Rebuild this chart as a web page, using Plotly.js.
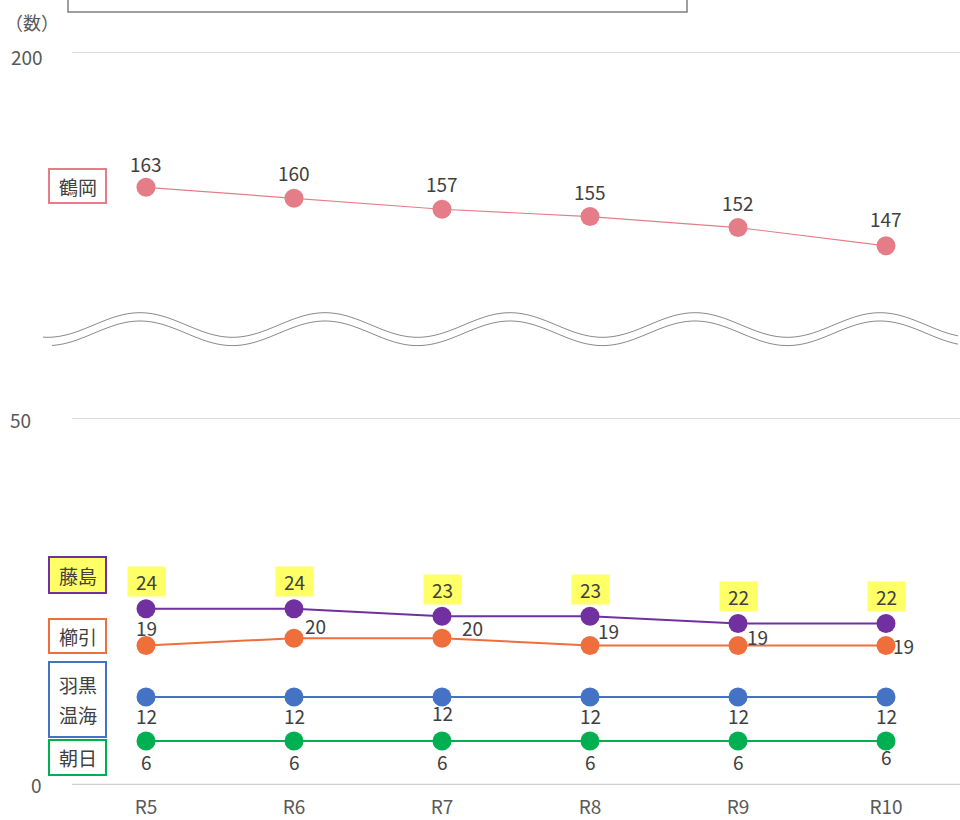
<!DOCTYPE html>
<html><head><meta charset="utf-8">
<script src="https://cdn.plot.ly/plotly-3.0.1.min.js"></script>
<style>body{margin:0;background:#fff}#c{width:960px;height:820px}</style>
</head><body><div id="c"></div>
<script>
// ---- data ----
const years = ['R5','R6','R7','R8','R9','R10'];
const tsuruoka = [163,160,157,155,152,147];
const fujishima = [24,24,23,23,22,22];
const kushibiki = [19,20,20,19,19,19];
const haguroAtsumi = [12,12,12,12,12,12];
const asahi = [6,6,6,6,6,6];
const seriesNames = [['鶴岡'],['藤島'],['櫛引'],['羽黒','温海'],['朝日']];
const unitLabel = '（数）';
const lowerTicks = [0,50];
const upperTicks = [200];

// ---- layout geometry (pixels) ----
const W=960,H=820,ML=72,MR=0,MT=52,MB=35;
const PW=W-ML-MR, PH=H-MT-MB;
const px2x = p => (p-ML)/PW;
const py2y = p => (H-MB-p)/PH;
const FONT = '"Noto Sans CJK JP", "Noto Sans", sans-serif';
const TXT = '#404040';
const GRID = '#d9d9d9';

const colors = {ts:'#e47d88', fu:'#7030a0', ku:'#ef6f3c', ha:'#4472c4', as:'#00b050'};

function line(y, color, yaxis, w){
  return {x:years, y:y, type:'scatter', mode:'lines+markers', yaxis:yaxis, cliponaxis:false,
    line:{color:color, width:w}, marker:{color:color, size:19}, hoverinfo:'skip', showlegend:false};
}
const data = [
  line(tsuruoka, colors.ts, 'y2', 1.2),
  line(fujishima, colors.fu, 'y', 2),
  line(kushibiki, colors.ku, 'y', 2),
  line(haguroAtsumi, colors.ha, 'y', 2),
  line(asahi, colors.as, 'y', 2)
];

const ann = [];
function lab(x, y, yref, text, xs, ys, extra){
  ann.push(Object.assign({x:x, y:y, xref:'x', yref:yref, text:String(text), showarrow:false,
    xanchor:'center', yanchor:'middle',
    xshift:xs, yshift:ys, font:{family:FONT, size:19, color:TXT}}, extra||{}));
}
const tsOff = [24,26,26,25,25,27];
const kuOff = [[0,18],[21,13],[30,11],[18,15],[19,9],[17,0]];
years.forEach((yr,i)=>{
  lab(yr, tsuruoka[i], 'y2', tsuruoka[i], 0, tsOff[i]);
  lab(yr, fujishima[i], 'y', fujishima[i], 0, 27, {bgcolor:'#ffff66', borderpad:4, width:29, height:21});
  lab(yr, kushibiki[i], 'y', kushibiki[i], kuOff[i][0], kuOff[i][1]);
  lab(yr, haguroAtsumi[i], 'y', haguroAtsumi[i], 0, i===2?-16:-19);
  lab(yr, asahi[i], 'y', asahi[i], 0, i===5?-16:-21);
});

// series name boxes (frames + text)
const boxes = [
  {c:colors.ts, y0:169, y1:203, bg:'rgba(0,0,0,0)'},
  {c:colors.fu, y0:557, y1:593, bg:'#ffff66'},
  {c:colors.ku, y0:619, y1:653, bg:'rgba(0,0,0,0)'},
  {c:colors.ha, y0:662, y1:737, bg:'rgba(0,0,0,0)'},
  {c:colors.as, y0:740, y1:775, bg:'rgba(0,0,0,0)'}
];
const shapes = [];
boxes.forEach((b,k)=>{
  shapes.push({type:'rect', xref:'paper', yref:'paper', x0:px2x(49), x1:px2x(106),
    y0:py2y(b.y1), y1:py2y(b.y0), line:{color:b.c, width:2}, fillcolor:b.bg, layer:'above'});
  const lines = seriesNames[k];
  const mid = (b.y0+b.y1)/2;
  lines.forEach((t,j)=>{
    const cy = mid + (j-(lines.length-1)/2)*30;
    ann.push({xref:'paper', yref:'paper', x:px2x(77.5), y:py2y(cy), text:t, showarrow:false,
      xanchor:'center', yanchor:'middle', font:{family:FONT, size:19, color:TXT}});
  });
});

// axis labels
const tickFont = {family:FONT, size:19, color:'#595959'};
function axLab(px, py, t, sz){
  ann.push({xref:'paper',yref:'paper',x:px2x(px),y:py2y(py),text:String(t),showarrow:false,
    xanchor:'center', yanchor:'middle', font:Object.assign({}, tickFont, sz?{size:sz}:{})});
}
axLab(27, 56, upperTicks[0]);
axLab(20, 420, lowerTicks[1]);
axLab(36, 784, lowerTicks[0]);
axLab(32, 22, unitLabel, 18);

// gridlines / baseline
shapes.push({type:'line', xref:'paper', yref:'y2', x0:0, x1:1, y0:upperTicks[0], y1:upperTicks[0], line:{color:GRID, width:2}});
shapes.push({type:'line', xref:'paper', yref:'y', x0:0, x1:1, y0:lowerTicks[1], y1:lowerTicks[1], line:{color:GRID, width:2}});
shapes.push({type:'line', xref:'paper', yref:'y', x0:0, x1:1, y0:lowerTicks[0], y1:lowerTicks[0], line:{color:'#cfcfcf', width:2.5}, layer:'below'});

// wave break decoration
function wave(dy, x0){
  let d='';
  for(let p=x0; p<=W; p+=3){
    const yy = 325+dy - 12.3*Math.cos(2*Math.PI*(p-140)/185);
    d += (p===x0?'M':'L') + px2x(p).toFixed(5) + ',' + py2y(yy).toFixed(5) + ' ';
  }
  return d;
}
shapes.push({type:'path', xref:'paper', yref:'paper', path:wave(0,43), line:{color:'#8a8a8a', width:1}});
shapes.push({type:'path', xref:'paper', yref:'paper', path:wave(8.3,52), line:{color:'#8a8a8a', width:1}});
shapes.push({type:'rect', xref:'paper', yref:'paper', x0:px2x(68), x1:px2x(687), y0:py2y(12), y1:py2y(-10),
   line:{color:'#808080', width:1.5}, fillcolor:'rgba(0,0,0,0)'});

const layout = {
  width:W, height:H, margin:{l:ML, r:MR, t:MT, b:MB},
  paper_bgcolor:'#fff', plot_bgcolor:'#fff', showlegend:false,
  font:{family:FONT, color:TXT},
  xaxis:{type:'category', range:[-0.5,5.5], showgrid:false, zeroline:false,
    showline:false, ticks:'', ticklabelstandoff:9,
    tickfont:{family:FONT, size:19, color:'#595959'}, anchor:'y'},
  yaxis:{domain:[0, 367/PH], range:[0,50], showticklabels:false,
    showgrid:false, zeroline:false},
  yaxis2:{domain:[py2y(308), 1], range:[130,200], showticklabels:false,
    showgrid:false, zeroline:false, anchor:'x'},
  annotations:ann, shapes:shapes
};
Plotly.newPlot('c', data, layout, {staticPlot:true});
</script></body></html>
